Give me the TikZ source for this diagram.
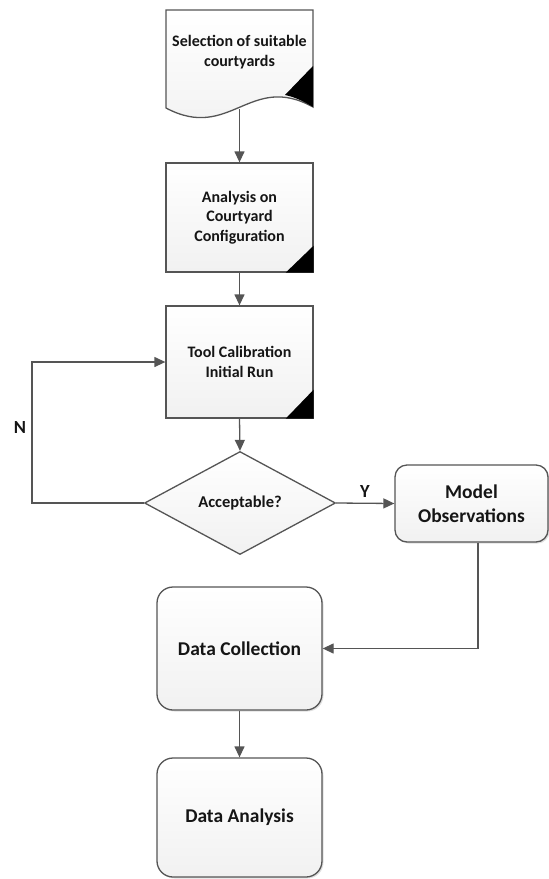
\documentclass[tikz,border=0pt]{standalone}
\usepackage{fontspec}
\setmainfont{Carlito}
\usetikzlibrary{shapes.geometric,arrows.meta,shadows}
\definecolor{edge}{HTML}{555555}
\definecolor{txt}{HTML}{151515}
\begin{document}
\begin{tikzpicture}[x=1pt,y=-1pt,
  lines/.style={draw=edge, line width=1.3pt},
  shade/.style={top color=white, bottom color=gray!11},
  procbox/.style={rectangle, lines, shade, minimum width=147pt, align=center,
    font=\fontsize{16}{19.5}\selectfont\bfseries, text=txt, inner sep=0pt},
  roundbox/.style={rectangle, lines, shade, rounded corners=16pt, align=center,
    font=\fontsize{19.5}{23.5}\selectfont\bfseries, text=txt, inner sep=0pt,
    drop shadow={shadow xshift=1.5pt, shadow yshift=-1.5pt, opacity=0.25, fill=gray}},
  decision/.style={diamond, lines, shade, minimum width=191pt, minimum height=103pt,
    inner sep=0pt, font=\fontsize{16.5}{20}\selectfont\bfseries, text=txt},
  lbl/.style={font=\fontsize{18.5}{22}\selectfont\bfseries, text=txt},
  arr/.style={lines, -{Triangle[length=11pt,width=10pt]}},
  corner/.style={fill=black}
]
\useasboundingbox (0,0) rectangle (549,879);

% document shape
\path[lines, shade] (166,10) -- (313,10) -- (313,107)
  .. controls (250,72) and (230,142) .. (166,108) -- cycle;
\fill[corner] (313,66) -- (313,107) .. controls (305,102) and (295,97) .. (285,95) -- cycle;
\node[font=\fontsize{16}{19.5}\selectfont\bfseries, text=txt, align=center] (sel) at (239.5,52)
  {Selection of suitable\\courtyards};
\coordinate (selb) at (239.5,109);

\node[procbox, minimum height=109pt] (ana) at (239.5,217.5)
  {Analysis on\\Courtyard\\Configuration};
\fill[corner] ([xshift=-28pt]ana.south east) -- (ana.south east) -- ([yshift=27pt]ana.south east) -- cycle;

\node[procbox, minimum height=112pt] (cal) at (239.5,362)
  {Tool Calibration\\Initial Run};
\fill[corner] ([xshift=-28pt]cal.south east) -- (cal.south east) -- ([yshift=29pt]cal.south east) -- cycle;

\node[decision] (acc) at (240,503) {Acceptable?};

\node[roundbox, minimum width=153pt, minimum height=77pt, rounded corners=12pt] (mod) at (471.5,503.5)
  {Model\\Observations};

\node[roundbox, minimum width=165pt, minimum height=123pt] (dc) at (239.5,648.5) {Data Collection};
\node[roundbox, minimum width=165pt, minimum height=119pt] (da) at (239.5,817.5) {Data Analysis};

\coordinate (loopx) at (32,0);
\node[lbl] (nl) at (20,427) {N};
\node[lbl] (yl) at (365,491) {Y};

\draw[arr] (selb) -- (ana.north);
\draw[arr] (ana.south) -- (cal.north);
\draw[arr] (cal.south) -- (acc.north);
\draw[arr] (acc.west) -- (acc.west -| loopx) |- (cal.west);
\draw[arr] (acc.east) -- (mod.west);
\draw[arr] ([xshift=6.5pt]mod.south) |- (dc.east);
\draw[arr] (dc.south) -- (da.north);
\end{tikzpicture}
\end{document}
